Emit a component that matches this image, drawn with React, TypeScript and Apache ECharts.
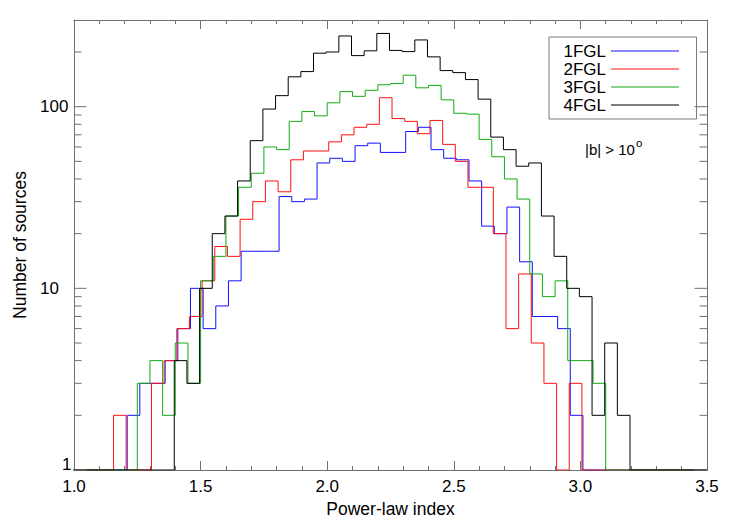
import React, { useEffect, useRef } from "react";
import * as echarts from "echarts";

// ---- data -----------------------------------------------------------
const CATALOGS = ["1FGL", "2FGL", "3FGL", "4FGL"];
const COLORS = ["#1010ff", "#ff1010", "#14aa14", "#000000"];
const BIN_WIDTH = 0.05;
// left edge of the first bin of each catalogue histogram
const BIN_STARTS = [1.01, 1.006, 1.0, 0.996];

// counts per 0.05 bin, bins from 1.00 to 3.45
const COUNTS_1FGL = [
  0, 0, 0, 0, 2, 3, 3, 4, 6, 10,
  6, 8, 11, 16, 16, 16, 32, 30, 31, 49,
  52, 50, 61, 63, 56, 56, 73, 77, 58, 52,
  51, 39, 22, 20, 28, 14, 7, 7, 6, 2,
  0, 0, 0, 0, 0, 0, 0, 0, 0, 0,
];
const COUNTS_2FGL = [
  0, 0, 0, 2, 0, 0, 3, 4, 6, 7,
  11, 17, 15, 24, 30, 39, 34, 51, 57, 57,
  64, 70, 77, 80, 112, 86, 83, 71, 84, 62,
  50, 36, 36, 20, 6, 12, 5, 3, 0, 3,
  0, 0, 0, 0, 0, 0, 0, 0, 0, 0,
];
const COUNTS_3FGL = [
  0, 0, 0, 0, 0, 3, 4, 2, 5, 3,
  11, 15, 25, 36, 43, 60, 58, 83, 94, 89,
  105, 121, 114, 123, 132, 134, 149, 127, 131, 109,
  92, 91, 66, 53, 40, 31, 12, 9, 11, 4,
  4, 3, 0, 0, 0, 0, 0, 0, 0, 0,
];
const COUNTS_4FGL = [
  0, 0, 0, 0, 0, 0, 0, 0, 4, 3,
  10, 20, 25, 39, 65, 97, 115, 146, 156, 197,
  200, 245, 191, 203, 253, 204, 201, 233, 188, 158,
  154, 141, 110, 68, 58, 47, 49, 25, 15, 10,
  9, 2, 5, 2, 0, 0, 0, 0, 0, 0,
];
const ALL_COUNTS = [COUNTS_1FGL, COUNTS_2FGL, COUNTS_3FGL, COUNTS_4FGL];

const X_MIN = 1.0;
const X_MAX = 3.5;
const X_INTERVAL = 0.5;
const Y_MIN = 1;
const Y_MAX = 300;
const Y_TICK_LABELS = ["1", "10", "100"];
const Y_MAJOR_TICKS = [1, 10, 100];
const Y_MINOR_TICKS = [2, 3, 4, 5, 6, 7, 8, 9, 20, 30, 40, 50, 60, 70, 80, 90, 200];

const X_TITLE = "Power-law index";
const Y_TITLE = "Number of sources";
const NOTE_TEXT = "|b| > 10";
const NOTE_SUP = "o";

// ---- styles ---------------------------------------------------------
const FONT = "'Liberation Sans', Arial, Helvetica, sans-serif";
const AXIS_COLOR = "#707070";

function stepData(start: number, counts: number[]) {
  const pts = counts.map((c, i) => [start + i * BIN_WIDTH, Math.max(c, Y_MIN)]);
  const last = counts[counts.length - 1];
  pts.push([start + counts.length * BIN_WIDTH, Math.max(last, Y_MIN)]);
  return pts;
}

export default function App() {
  const ref = useRef<HTMLDivElement>(null);

  useEffect(() => {
    if (!ref.current) return;
    const chart = echarts.init(ref.current, null, { renderer: "svg" });

    const xAxisBase = {
      type: "value",
      min: X_MIN,
      max: X_MAX,
      interval: X_INTERVAL,
      splitLine: { show: false },
      axisLine: { show: true, lineStyle: { color: AXIS_COLOR, width: 1 } },
      axisTick: { show: true, inside: true, length: 9, lineStyle: { color: AXIS_COLOR } },
      minorTick: { show: true, splitNumber: 5, length: 4, lineStyle: { color: AXIS_COLOR } },
      minorSplitLine: { show: false },
    };

    const yAxisBase = {
      type: "log",
      logBase: 10,
      min: Y_MIN,
      max: Y_MAX,
      splitLine: { show: false },
      axisLine: { show: true, lineStyle: { color: AXIS_COLOR, width: 1 } },
      axisTick: { show: false },
    };

    const tickRows = [
      ...Y_MAJOR_TICKS.map((v) => [X_MIN, v, 1]),
      ...Y_MINOR_TICKS.map((v) => [X_MIN, v, 0]),
    ];

    const series: any[] = CATALOGS.map((name, k) => ({
      name,
      type: "line",
      step: "end",
      symbol: "none",
      showSymbol: false,
      clip: true,
      color: COLORS[k],
      lineStyle: { color: COLORS[k], width: 1 },
      data: stepData(BIN_STARTS[k], ALL_COUNTS[k]),
      z: 3 + k,
    }));

    series.push({
      type: "custom",
      name: "yticks",
      silent: true,
      xAxisIndex: 0,
      yAxisIndex: 0,
      data: tickRows,
      z: 10,
      renderItem: (params: any, api: any) => {
        const v = api.value(1);
        const major = api.value(2) === 1;
        const len = major ? 12.5 : 7.5;
        const l = api.coord([X_MIN, v]);
        const r = api.coord([X_MAX, v]);
        const st = { stroke: AXIS_COLOR, lineWidth: 1 };
        return {
          type: "group",
          children: [
            { type: "line", shape: { x1: l[0], y1: l[1], x2: l[0] + len, y2: l[1] }, style: st },
            { type: "line", shape: { x1: r[0] - len, y1: r[1], x2: r[0], y2: r[1] }, style: st },
          ],
        };
      },
    });

    const option: any = {
      animation: false,
      backgroundColor: "#ffffff",
      textStyle: { fontFamily: FONT, color: "#000" },
      grid: {
        left: 74,
        top: 20,
        width: 633,
        height: 450,
        containLabel: false,
        outerBoundsMode: "none",
      },
      legend: {
        data: CATALOGS,
        orient: "vertical",
        left: 549,
        top: 37,
        align: "right",
        itemWidth: 68,
        itemHeight: 14,
        itemGap: 0,
        padding: [5, 17, 5, 7],
        borderColor: "#7a7a7a",
        borderWidth: 1,
        backgroundColor: "#ffffff",
        selectedMode: false,
        itemStyle: { opacity: 0 },
        lineStyle: { width: 1 },
        textStyle: {
          fontFamily: FONT,
          fontSize: 17,
          color: "#000",
          width: 50,
          lineHeight: 18,
        },
      },
      xAxis: [
        {
          ...xAxisBase,
          position: "bottom",
          name: X_TITLE,
          nameLocation: "middle",
          nameGap: 26,
          nameTextStyle: { fontFamily: FONT, fontSize: 17.5, color: "#000" },
          axisLabel: {
            show: true,
            margin: 8,
            fontFamily: FONT,
            fontSize: 17,
            color: "#000",
            formatter: (v: number) => v.toFixed(1),
          },
        },
        {
          ...xAxisBase,
          position: "top",
          axisLabel: { show: false },
        },
      ],
      yAxis: [
        {
          ...yAxisBase,
          position: "left",
          name: Y_TITLE,
          nameLocation: "middle",
          nameRotate: 90,
          nameGap: 45,
          nameTextStyle: { fontFamily: FONT, fontSize: 17.5, color: "#000" },
          axisLabel: {
            show: true,
            showMaxLabel: false,
            align: "left",
            margin: 34,
            fontFamily: FONT,
            fontSize: 17,
            color: "#000",
            formatter: (v: number) => {
              const r = Math.round(v);
              const idx = Y_MAJOR_TICKS.indexOf(r);
              if (idx < 0) return "";
              return idx === 0 ? "{one|" + Y_TICK_LABELS[0] + "}" : Y_TICK_LABELS[idx];
            },
            rich: {
              one: {
                fontFamily: FONT,
                fontSize: 17,
                color: "#000",
                padding: [0, 0, 11, 22],
              },
            },
          },
        },
        {
          ...yAxisBase,
          position: "right",
          axisLabel: { show: false },
        },
      ],
      graphic: [
        {
          type: "text",
          left: 585,
          top: 142,
          style: { text: NOTE_TEXT, fontFamily: FONT, fontSize: 15, fill: "#000" },
        },
        {
          type: "text",
          left: 636,
          top: 137,
          style: { text: NOTE_SUP, fontFamily: FONT, fontSize: 11.5, fill: "#000" },
        },
      ],
      series,
    };

    chart.setOption(option);
    return () => chart.dispose();
  }, []);

  return (
    <div
      ref={ref}
      style={{ position: "absolute", left: 0, top: 0, width: 735, height: 524, background: "#fff" }}
    />
  );
}
